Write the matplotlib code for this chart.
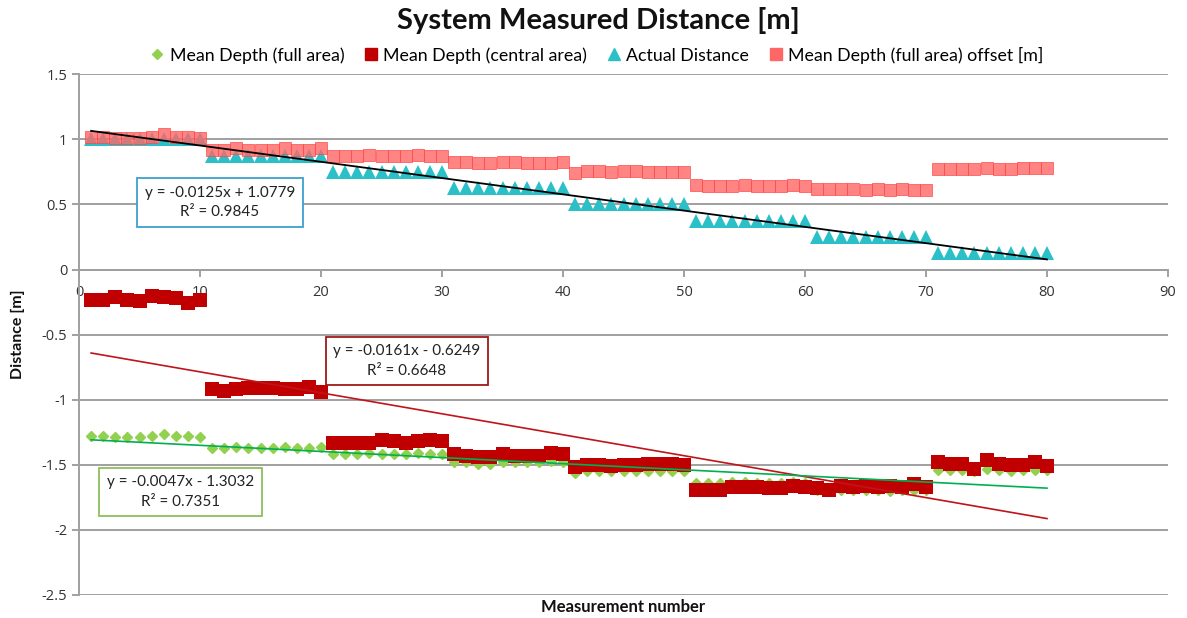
import matplotlib
matplotlib.use("Agg")
import matplotlib.pyplot as plt
import numpy as np
from matplotlib.lines import Line2D

# ---- data ----
measurement = list(range(1, 81))

mean_full = [
    -1.28, -1.28, -1.29, -1.29, -1.29, -1.28, -1.26, -1.28, -1.28, -1.29,
    -1.37, -1.37, -1.36, -1.37, -1.37, -1.37, -1.36, -1.37, -1.37, -1.36,
    -1.42, -1.42, -1.42, -1.41, -1.42, -1.42, -1.42, -1.41, -1.42, -1.42,
    -1.48, -1.48, -1.49, -1.49, -1.48, -1.48, -1.48, -1.48, -1.47, -1.48,
    -1.56, -1.55, -1.55, -1.55, -1.55, -1.55, -1.55, -1.55, -1.55, -1.55,
    -1.64, -1.64, -1.64, -1.63, -1.63, -1.64, -1.64, -1.64, -1.63, -1.64,
    -1.69, -1.69, -1.69, -1.69, -1.69, -1.69, -1.70, -1.69, -1.69, -1.69,
    -1.54, -1.54, -1.54, -1.55, -1.53, -1.54, -1.55, -1.54, -1.54, -1.54,
]

mean_central = [
    -0.23, -0.23, -0.21, -0.23, -0.24, -0.20, -0.21, -0.22, -0.26, -0.23,
    -0.92, -0.93, -0.92, -0.91, -0.91, -0.91, -0.92, -0.92, -0.90, -0.94,
    -1.33, -1.33, -1.33, -1.33, -1.31, -1.32, -1.33, -1.32, -1.31, -1.32,
    -1.42, -1.43, -1.44, -1.44, -1.42, -1.43, -1.43, -1.43, -1.41, -1.42,
    -1.52, -1.50, -1.50, -1.51, -1.50, -1.50, -1.49, -1.49, -1.49, -1.50,
    -1.69, -1.69, -1.69, -1.67, -1.67, -1.67, -1.68, -1.68, -1.66, -1.67,
    -1.68, -1.69, -1.66, -1.67, -1.66, -1.67, -1.66, -1.67, -1.65, -1.67,
    -1.48, -1.49, -1.49, -1.53, -1.46, -1.49, -1.50, -1.50, -1.48, -1.51,
]

actual_distance = (
    [1.0] * 10 + [0.875] * 10 + [0.75] * 10 + [0.625] * 10 +
    [0.5] * 10 + [0.375] * 10 + [0.25] * 10 + [0.125] * 10
)

mean_full_offset = [
    1.02, 1.02, 1.01, 1.01, 1.01, 1.02, 1.04, 1.02, 1.02, 1.01,
    0.92, 0.92, 0.93, 0.92, 0.92, 0.92, 0.93, 0.92, 0.92, 0.93,
    0.87, 0.87, 0.87, 0.88, 0.87, 0.87, 0.87, 0.88, 0.87, 0.87,
    0.83, 0.83, 0.82, 0.82, 0.83, 0.83, 0.82, 0.82, 0.82, 0.83,
    0.74, 0.76, 0.76, 0.75, 0.76, 0.76, 0.75, 0.75, 0.75, 0.75,
    0.65, 0.64, 0.64, 0.64, 0.65, 0.64, 0.64, 0.64, 0.65, 0.64,
    0.62, 0.62, 0.62, 0.62, 0.61, 0.62, 0.61, 0.62, 0.61, 0.61,
    0.77, 0.77, 0.77, 0.77, 0.78, 0.77, 0.77, 0.78, 0.78, 0.78,
]

# trendlines (slope, intercept, R²) as displayed
trend_actual = (-0.0125, 1.0779, 0.9845)
trend_central = (-0.0161, -0.6249, 0.6648)
trend_full = (-0.0047, -1.3032, 0.7351)

series_labels = ["Mean Depth (full area)", "Mean Depth (central area)",
                 "Actual Distance", "Mean Depth (full area) offset [m]"]

xticks = list(range(0, 91, 10))
yticks = [1.5, 1, 0.5, 0, -0.5, -1, -1.5, -2, -2.5]

# ---- style ----
C_GREEN = "#92D050"
C_RED = "#C00000"
C_CYAN = "#2BBFC8"
C_PINK = "#FF6666"
C_GRID = "#A0A0A0"

plt.rcParams['font.family'] = ['Open Sans', 'DejaVu Sans']

fig = plt.figure(figsize=(11.87, 6.18), dpi=100)
ax = fig.add_axes([79/1187, 1 - 595/618, (1168-79)/1187, (595-74.3)/618])

x = np.array(measurement)
ax.plot(x, mean_full, linestyle='none', marker='D', markersize=5.6,
        color=C_GREEN, zorder=3)
ax.plot(x, mean_central, linestyle='none', marker='s', markersize=9.5,
        color=C_RED, markeredgewidth=0, zorder=4)
ax.plot(x, actual_distance, linestyle='none', marker='^', markersize=10,
        color=C_CYAN, markeredgewidth=0, zorder=5)
ax.plot(x, mean_full_offset, linestyle='none', marker='s', markersize=9.2,
        markerfacecolor=C_PINK, markeredgecolor="#FF4444", markeredgewidth=0.6,
        alpha=0.8, zorder=6)

xl = np.array([x[0], x[-1]])
ax.plot(xl, trend_actual[0]*xl + trend_actual[1], color='black', lw=1.3, zorder=8)
ax.plot(xl, trend_central[0]*xl + trend_central[1], color='#C0141B', lw=1.2, zorder=8)
ax.plot(xl, trend_full[0]*xl + trend_full[1], color='#00B050', lw=1.2, zorder=8)

def eq_text(sl, ic, r2):
    sign = '+' if ic >= 0 else '-'
    return f"y = {sl:.4f}x {sign} {abs(ic):.4f}\nR² = {r2:.4f}"

box_font = ['Lato', 'DejaVu Sans']
for (tr, pos, ec) in [(trend_actual, (11.65, 0.515), '#3CA0D0'),
                      (trend_central, (27.1, -0.703), '#A01818'),
                      (trend_full, (8.4, -1.709), '#8DBF5A')]:
    ax.text(pos[0], pos[1], eq_text(*tr), ha='center', va='center',
            multialignment='center', fontsize=11, family=box_font, color='#222222',
            linespacing=1.5,
            bbox=dict(boxstyle='square,pad=0.5', fc='white', ec=ec, lw=1.3), zorder=9)

ax.set_xlim(0, 90)
ax.set_ylim(-2.5, 1.5)
ax.set_xticks(xticks)
ax.set_yticks(yticks)
ax.set_yticklabels([f"{v:g}" for v in yticks])
ax.yaxis.grid(True, color=C_GRID, lw=1.4)
ax.xaxis.grid(False)
ax.set_axisbelow(True)

ax.spines['top'].set_visible(False)
ax.spines['right'].set_visible(False)
ax.spines['bottom'].set_position(('data', 0))
ax.spines['bottom'].set_color(C_GRID)
ax.spines['bottom'].set_linewidth(1.4)
ax.spines['left'].set_color(C_GRID)
ax.spines['left'].set_linewidth(1.4)
ax.tick_params(axis='both', colors=C_GRID, length=5, width=1.4,
               labelcolor='#333333', labelsize=10.5)
ax.tick_params(axis='x', pad=6)

ax.set_ylabel("Distance [m]", fontsize=11.5, fontweight='bold', family=box_font,
              color='#111111', labelpad=12)
fig.text(623/1187, 1 - 607/618, "Measurement number", ha='center', va='center',
         fontsize=12, fontweight='bold', family=box_font, color='#111111')
fig.text(598/1187, 1 - 21/618, "System Measured Distance [m]", ha='center', va='center',
         fontsize=21, fontweight='bold', family=box_font, color='#111111')

handles = [
    Line2D([], [], linestyle='none', marker='D', markersize=5, color=C_GREEN),
    Line2D([], [], linestyle='none', marker='s', markersize=8, color=C_RED),
    Line2D([], [], linestyle='none', marker='^', markersize=8, color=C_CYAN),
    Line2D([], [], linestyle='none', marker='s', markersize=8, color=C_PINK),
]
fig.legend(handles, series_labels, loc='center', bbox_to_anchor=(595/1187, 1 - 55/618),
           ncol=4, frameon=False, prop={'family': box_font, 'size': 12.8},
           handletextpad=0.1, columnspacing=0.9, handlelength=1.2)

fig.savefig("out.png", dpi=100)
